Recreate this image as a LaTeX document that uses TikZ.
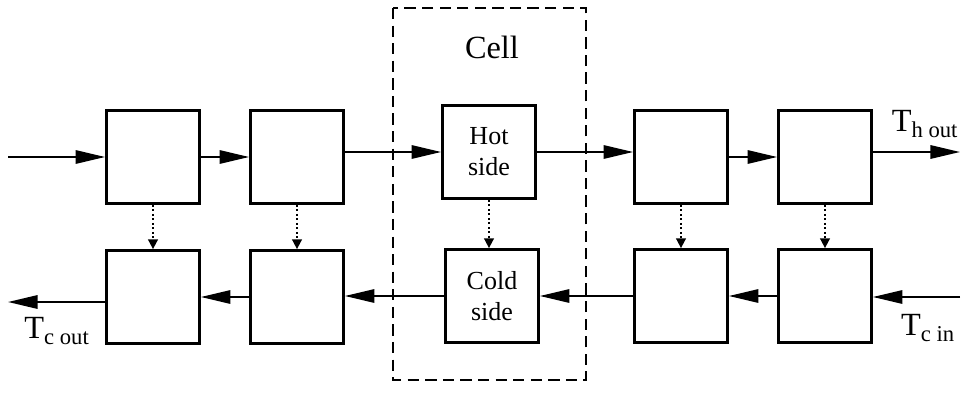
\documentclass[tikz,border=0pt]{standalone}
\usepackage{fontspec}
\setmainfont{Liberation Serif}
\usetikzlibrary{arrows.meta}

\tikzset{
  box/.style={draw,line width=1.8pt,minimum width=2.33cm,minimum height=2.33cm,
    inner sep=0pt,align=center,font=\fontsize{18.5}{22}\selectfont},
  flow/.style={line width=1.4pt,-{Triangle[length=21pt,width=9.5pt]}},
  leak/.style={dotted,line width=1.2pt,-{Triangle[length=7pt,width=7pt]}},
  tlabel/.style={font=\fontsize{23}{26}\selectfont,inner sep=0pt},
}

\begin{document}
\begin{tikzpicture}[x=0.025cm,y=-0.025cm]
\useasboundingbox (0,0) rectangle (962,394);

% cell frame
\draw[line width=1.5pt,dash pattern=on 8pt off 4.5pt] (393,8) rectangle (586,380);
\node[tlabel] at (492,47) (cell){Cell};

% hot side row
\node[box] at (153,157) (h1){};
\node[box] at (297,157) (h2){};
\node[box] at (489,152) (hot){Hot\\side};
\node[box] at (681,157) (h4){};
\node[box] at (825,157) (h5){};

% cold side row
\node[box] at (153,297) (c1){};
\node[box] at (297,297) (c2){};
\node[box] at (492,296) (cold){Cold\\side};
\node[box] at (681,296) (c4){};
\node[box] at (825,296) (c5){};

\coordinate (hin) at (8,157);
\coordinate (hout) at (960,152);
\coordinate (cin) at (960,297);
\coordinate (cout) at (8,302);

\node[tlabel] at (925,124) (thout){T\textsubscript{h out}};
\node[tlabel] at (928,328) (tcin){T\textsubscript{c in}};
\node[tlabel] at (57,331) (tcout){T\textsubscript{c out}};

% flows
\draw[flow] (hin) -- (h1.west);
\draw[flow] (h1.east) -- (h2.west);
\draw[flow] (h2.east |- hot) -- (hot.west);
\draw[flow] (hot.east) -- (h4.west |- hot);
\draw[flow] (h4.east) -- (h5.west);
\draw[flow] (h5.east |- hout) -- (hout);

\draw[flow] (cin) -- (c5.east |- cin);
\draw[flow] (c5.west) -- (c4.east);
\draw[flow] (c4.west) -- (cold.east);
\draw[flow] (cold.west) -- (c2.east |- cold);
\draw[flow] (c2.west) -- (c1.east);
\draw[flow] (c1.west |- cout) -- (cout);

% heat transfer
\foreach \a/\b in {h1/c1,h2/c2,h4/c4,h5/c5}{
\draw[leak] (\a.south) -- (\b.north);
}
\draw[leak] (hot.south) -- (hot.south |- cold.north);
\end{tikzpicture}
\end{document}
